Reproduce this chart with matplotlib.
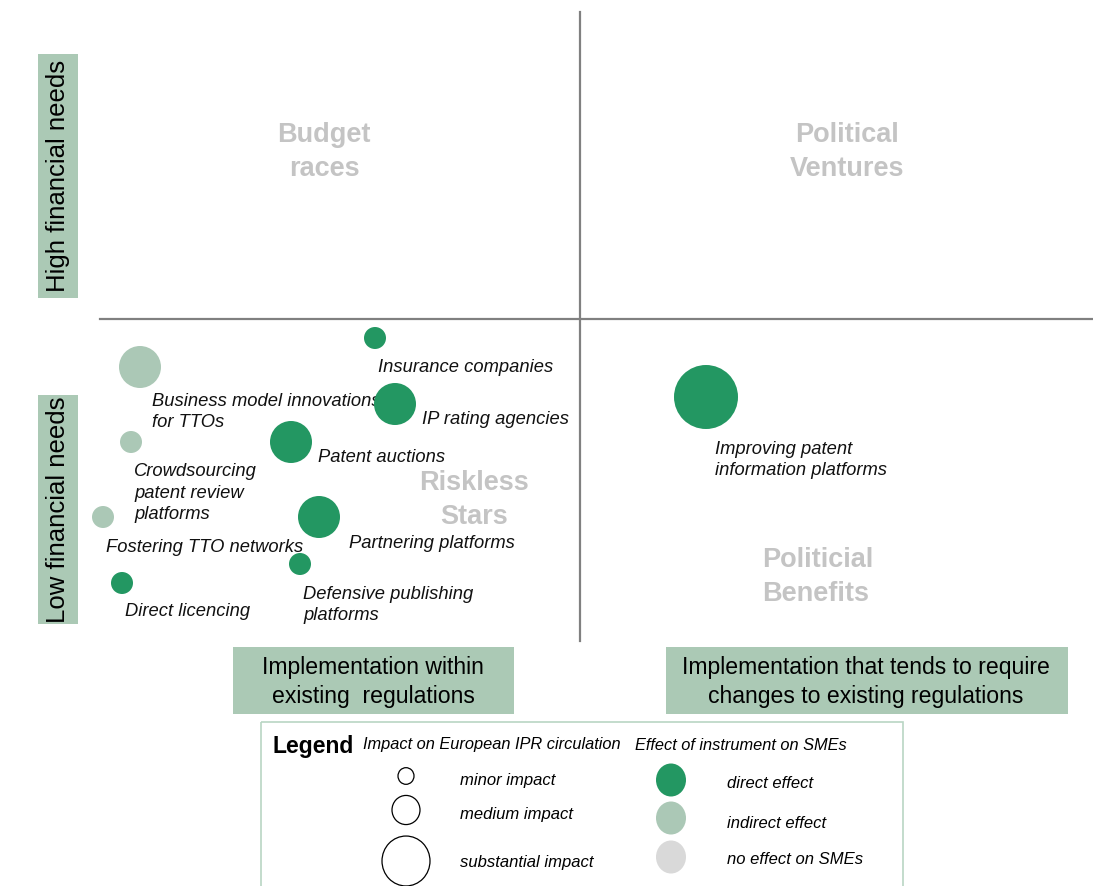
import matplotlib.pyplot as plt
from matplotlib.patches import Circle, Ellipse, Rectangle

plt.rcParams['font.family'] = ['Liberation Sans', 'DejaVu Sans']

# instruments: position on the map (x = need for regulatory change, y = financial need, inverted)
names = ['Insurance companies', 'Business model innovations\nfor TTOs', 'IP rating agencies',
         'Crowdsourcing\npatent review\nplatforms', 'Patent auctions', 'Fostering TTO networks',
         'Partnering platforms', 'Defensive publishing\nplatforms', 'Direct licencing',
         'Improving patent\ninformation platforms']
pos_x = [375, 140, 395, 131, 291, 103, 319, 300, 122, 706]
pos_y = [338, 367, 404, 442, 442, 517, 517, 564, 583, 397]
impact = ['minor', 'medium', 'medium', 'minor', 'medium', 'minor', 'medium', 'minor', 'minor', 'substantial']
effect = ['direct', 'indirect', 'direct', 'indirect', 'direct', 'indirect', 'direct', 'direct', 'direct', 'direct']
label_x = [378, 152, 422, 134, 318, 106, 349, 303, 125, 715]
label_y = [367, 412, 419, 493, 457, 547, 543, 605, 612, 460]

quadrants = ['Budget\nraces', 'Political\nVentures', 'Riskless\nStars', 'Politicial\nBenefits']

# styles
radius = {'minor': 11, 'medium': 21, 'substantial': 32}
legend_radius = {'minor': 8, 'medium': 14, 'substantial': 24}
colors = {'direct': '#239762', 'indirect': '#abc8b6', 'none': '#d9d9d9'}
box_green = '#abc9b5'
quad_gray = '#c4c4c4'

fig = plt.figure(figsize=(10.93, 8.86), dpi=100)
ax = fig.add_axes([0, 0, 1, 1])
ax.set_xlim(0, 1093)
ax.set_ylim(886, 0)
ax.set_aspect('equal')
ax.axis('off')

# quadrant lines
ax.plot([580, 580], [12, 641], color='#808080', lw=1.6)
ax.plot([100, 1093], [319, 319], color='#808080', lw=1.6)

# quadrant names
qkw = dict(va='center', fontsize=19.5, fontweight='bold', color=quad_gray, linespacing=1.38)
ax.text(324, 152, quadrants[0], ha='center', **qkw)
ax.text(847, 152, quadrants[1], ha='center', **qkw)
ax.text(474, 500, quadrants[2], ha='center', zorder=1, **qkw)
ax.text(762, 577, quadrants[3], ha='left', **qkw)

# bubbles and labels
for i in range(len(names)):
    ax.add_patch(Circle((pos_x[i], pos_y[i]), radius[impact[i]], color=colors[effect[i]],
                        lw=0, zorder=4))
    ax.text(label_x[i], label_y[i], names[i], ha='left', va='center', fontsize=13.2,
            style='italic', color='#111111', linespacing=1.38, zorder=3)

# axis boxes
ax.add_patch(Rectangle((38, 54), 40, 244, color=box_green, lw=0))
ax.text(58, 176, 'High financial needs', rotation=90, ha='center', va='center', fontsize=18.5)
ax.add_patch(Rectangle((38, 395), 40, 229, color=box_green, lw=0))
ax.text(58, 510, 'Low financial needs', rotation=90, ha='center', va='center', fontsize=18.5)

ax.add_patch(Rectangle((233, 647), 281, 67, color=box_green, lw=0))
ax.text(373, 682, 'Implementation within\nexisting  regulations', ha='center', va='center',
        fontsize=16.6, linespacing=1.33)
ax.add_patch(Rectangle((666, 647), 402, 67, color=box_green, lw=0))
ax.text(866, 682, 'Implementation that tends to require\nchanges to existing regulations',
        ha='center', va='center', fontsize=16.6, linespacing=1.33)

# legend
ax.add_patch(Rectangle((261, 722), 642, 170, fill=False, edgecolor='#b9d6c4', lw=1.2))
ax.text(272, 746, 'Legend', ha='left', va='center', fontsize=16.5, fontweight='bold')
ax.text(363, 745, 'Impact on European IPR circulation', ha='left', va='center', fontsize=11.8,
        style='italic')
ax.text(635, 745, 'Effect of instrument on SMEs', ha='left', va='center', fontsize=11.8,
        style='italic')

size_rows = [('minor', 776, 781, 'minor impact'), ('medium', 810, 814, 'medium impact'),
             ('substantial', 861, 862, 'substantial impact')]
for key, cy, ty, txt in size_rows:
    r = legend_radius[key]
    ax.add_patch(Ellipse((406, cy), 2 * r, 2 * r * 1.04, fill=False, edgecolor='black', lw=0.9))
    ax.text(460, ty, txt, ha='left', va='center', fontsize=12, style='italic')

effect_rows = [('direct', 780, 784, 'direct effect'), ('indirect', 818, 823, 'indirect effect'),
               ('none', 857, 860, 'no effect on SMEs')]
for key, cy, ty, txt in effect_rows:
    ax.add_patch(Ellipse((671, cy), 30, 33, color=colors[key], lw=0))
    ax.text(727, ty, txt, ha='left', va='center', fontsize=12, style='italic')

fig.savefig('out.png', dpi=100)
